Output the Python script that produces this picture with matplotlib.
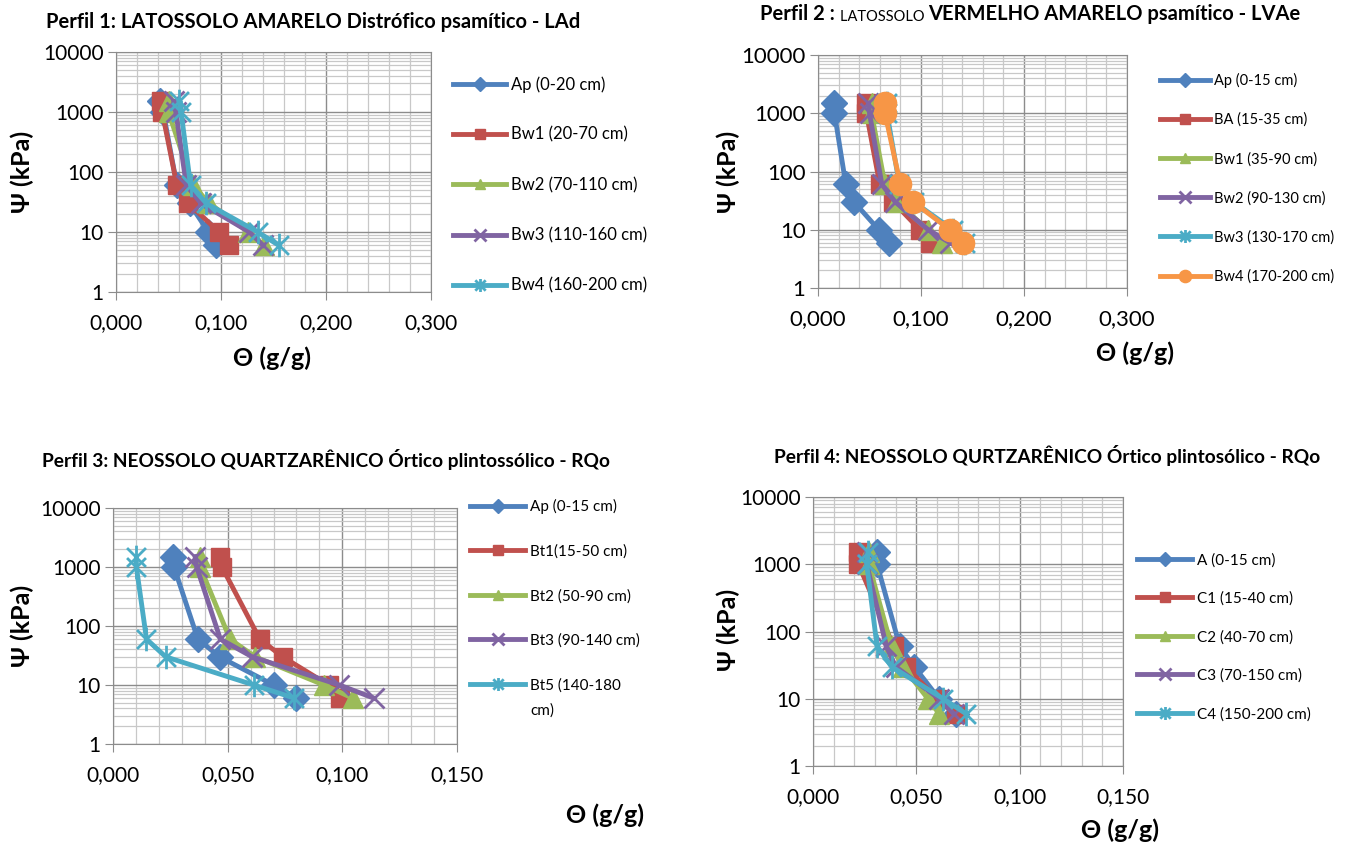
import numpy as np
import matplotlib
matplotlib.use("Agg")
import matplotlib.pyplot as plt
from matplotlib.path import Path
from matplotlib.ticker import MultipleLocator, FixedLocator, LogLocator, FuncFormatter, NullFormatter

plt.rcParams['font.family'] = ['Lato', 'DejaVu Sans']

W, H = 1372, 843

# suction levels (kPa)
psi = [1500, 1000, 60, 30, 10, 6]

# Perfil 1 - LAd
p1_labels = ['Ap (0-20 cm)', 'Bw1 (20-70 cm)', 'Bw2 (70-110 cm)', 'Bw3 (110-160 cm)', 'Bw4 (160-200 cm)']
p1_ap = [0.042, 0.045, 0.058, 0.070, 0.088, 0.095]
p1_bw1 = [0.0425, 0.044, 0.058, 0.069, 0.098, 0.108]
p1_bw2 = [0.050, 0.050, 0.073, 0.089, 0.126, 0.141]
p1_bw3 = [0.055, 0.057, 0.067, 0.081, 0.127, 0.140]
p1_bw4 = [0.060, 0.062, 0.071, 0.086, 0.135, 0.155]

# Perfil 2 - LVAe
p2_labels = ['Ap (0-15 cm)', 'BA (15-35 cm)', 'Bw1 (35-90 cm)', 'Bw2 (90-130 cm)', 'Bw3 (130-170 cm)', 'Bw4 (170-200 cm)']
p2_ap = [0.016, 0.016, 0.027, 0.035, 0.059, 0.069]
p2_ba = [0.047, 0.047, 0.060, 0.073, 0.099, 0.109]
p2_bw1 = [0.052, 0.052, 0.065, 0.076, 0.107, 0.120]
p2_bw2 = [0.049, 0.050, 0.062, 0.075, 0.107, 0.128]
p2_bw3 = [0.067, 0.067, 0.079, 0.093, 0.131, 0.143]
p2_bw4 = [0.065, 0.065, 0.080, 0.0925, 0.128, 0.141]

# Perfil 3 - RQo
p3_labels = ['Ap (0-15 cm)', 'Bt1(15-50 cm)', 'Bt2 (50-90 cm)', 'Bt3 (90-140 cm)', 'Bt5 (140-180']
p3_ap = [0.026, 0.0266, 0.037, 0.0465, 0.070, 0.080]
p3_bt1 = [0.0465, 0.0475, 0.064, 0.074, 0.094, 0.099]
p3_bt2 = [0.038, 0.038, 0.051, 0.062, 0.092, 0.1045]
p3_bt3 = [0.0358, 0.0365, 0.0468, 0.0607, 0.0987, 0.1137]
p3_bt5 = [0.0102, 0.0102, 0.0146, 0.023, 0.0614, 0.079]

# Perfil 4 - RQo
p4_labels = ['A (0-15 cm)', 'C1 (15-40 cm)', 'C2 (40-70 cm)', 'C3 (70-150 cm)', 'C4 (150-200 cm)']
p4_a = [0.031, 0.031, 0.042, 0.049, 0.061, 0.069]
p4_c1 = [0.022, 0.022, 0.039, 0.045, 0.060, 0.069]
p4_c2 = [0.027, 0.027, 0.038, 0.0435, 0.0556, 0.061]
p4_c3 = [0.026, 0.026, 0.0355, 0.040, 0.061, 0.068]
p4_c4 = [0.0266, 0.026, 0.031, 0.038, 0.063, 0.074]

blue, red, green, purple, cyan, orange = '#4F81BD', '#C0504D', '#9BBB59', '#8064A2', '#4BACC6', '#F79646'

star = Path([(-1, -1), (1, 1), (-1, 1), (1, -1), (0, -1.25), (0, 1.25)],
            [Path.MOVETO, Path.LINETO, Path.MOVETO, Path.LINETO, Path.MOVETO, Path.LINETO])

styles = {
    blue: dict(marker='D', ms=13),
    red: dict(marker='s', ms=13),
    green: dict(marker='^', ms=14),
    purple: dict(marker='x', ms=15, mew=2),
    cyan: dict(marker=star, ms=17, mew=2),
    orange: dict(marker='o', ms=16),
}

fig = plt.figure(figsize=(W / 100, H / 100), dpi=100)


def comma(v, pos):
    return ('%.3f' % v).replace('.', ',')


def make_panel(rect, xmax, major, minor, series, colors, labels, tick_fs):
    l, t, r, b = rect
    ax = fig.add_axes([l / W, 1 - b / H, (r - l) / W, (b - t) / H])
    for vals, c, lab in zip(series, colors, labels):
        ax.plot(vals, psi, color=c, lw=3.5, label=lab, mec=c, mfc=c, **styles[c])
    ax.set_yscale('log')
    ax.set_ylim(1, 10000)
    ax.set_xlim(0, xmax)
    ax.xaxis.set_major_locator(MultipleLocator(major))
    ax.xaxis.set_minor_locator(MultipleLocator(minor))
    ax.xaxis.set_major_formatter(FuncFormatter(comma))
    ax.yaxis.set_major_locator(FixedLocator([1, 10, 100, 1000, 10000]))
    ax.yaxis.set_major_formatter(FuncFormatter(lambda v, p: '%d' % v))
    ax.yaxis.set_minor_locator(LogLocator(base=10, subs=np.arange(2, 10)))
    ax.yaxis.set_minor_formatter(NullFormatter())
    ax.grid(True, which='major', color='#8c8c8c', lw=1.0)
    ax.grid(True, which='minor', color='#c8c8c8', lw=0.9)
    ax.set_axisbelow(True)
    for s in ax.spines.values():
        s.set_color('#8c8c8c')
    ax.tick_params(which='major', direction='out', length=6, color='#8c8c8c', labelsize=tick_fs, pad=3)
    ax.tick_params(which='minor', length=0)
    ax.tick_params(axis='x', pad=9)
    return ax


ax1 = make_panel((116, 52, 431, 292), 0.3, 0.1, 0.02,
                 [p1_ap, p1_bw1, p1_bw2, p1_bw3, p1_bw4],
                 [blue, red, green, purple, cyan], p1_labels, 15)
ax2 = make_panel((818, 55, 1127, 288), 0.3, 0.1, 0.02,
                 [p2_ap, p2_ba, p2_bw1, p2_bw2, p2_bw3, p2_bw4],
                 [blue, red, green, purple, cyan, orange], p2_labels, 16)
ax3 = make_panel((113, 508, 457, 744), 0.15, 0.05, 0.01,
                 [p3_ap, p3_bt1, p3_bt2, p3_bt3, p3_bt5],
                 [blue, red, green, purple, cyan], p3_labels, 15)
ax4 = make_panel((813, 497, 1123, 766), 0.15, 0.05, 0.01,
                 [p4_a, p4_c1, p4_c2, p4_c3, p4_c4],
                 [blue, red, green, purple, cyan], p4_labels, 15)


def leg(ax, x, y, spacing, fs, hl):
    ax.legend(loc='upper left', bbox_to_anchor=(x / W, 1 - y / H), bbox_transform=fig.transFigure,
              frameon=False, borderpad=0, borderaxespad=0, handlelength=hl, handletextpad=0.3,
              labelspacing=spacing, fontsize=fs, markerscale=0.55)


leg(ax1, 453, 76, 2.05, 12, 3.2)
leg(ax2, 1160, 73, 1.7, 10.5, 3.4)
leg(ax3, 470, 499, 1.98, 11, 3.6)
leg(ax4, 1137, 553, 1.58, 11, 3.6)
fig.text(530 / W, 1 - 711 / H, 'cm)', ha='left', va='center', fontsize=11)

# titles
fig.text(313 / W, 1 - 22 / H, 'Perfil 1: LATOSSOLO AMARELO Distrófico psamítico - LAd',
         ha='center', va='center', fontsize=14.5, fontweight='bold')
t2a = fig.text(760 / W, 1 - 20 / H, 'Perfil 2 : ', ha='left', va='baseline', fontsize=14.5, fontweight='bold')
t2b = ax2.annotate('LATOSSOLO ', xy=(1, 0), xycoords=t2a, ha='left', va='bottom', fontsize=10.5,
                   annotation_clip=False)
ax2.annotate('VERMELHO AMARELO psamítico - LVAe', xy=(1, 0), xycoords=t2b, ha='left', va='bottom',
             fontsize=14.5, fontweight='bold', annotation_clip=False)
fig.text(326 / W, 1 - 460 / H, 'Perfil 3: NEOSSOLO QUARTZARÊNICO Órtico plintossólico - RQo',
         ha='center', va='center', fontsize=13.8, fontweight='bold')
fig.text(1047 / W, 1 - 455 / H, 'Perfil 4: NEOSSOLO QURTZARÊNICO Órtico plintosólico - RQo',
         ha='center', va='center', fontsize=13.8, fontweight='bold')

# axis labels
for x, y in [(272, 358), (1135, 353), (605, 815), (1120, 830)]:
    fig.text(x / W, 1 - y / H, 'Θ (g/g)', ha='center', va='center', fontsize=18, fontweight='bold')
for x, y in [(22, 172), (728, 172), (22, 626), (728, 630)]:
    fig.text(x / W, 1 - y / H, 'Ψ (kPa)', ha='center', va='center', fontsize=18, fontweight='bold',
             rotation=90)

fig.savefig('out.png', dpi=100)
